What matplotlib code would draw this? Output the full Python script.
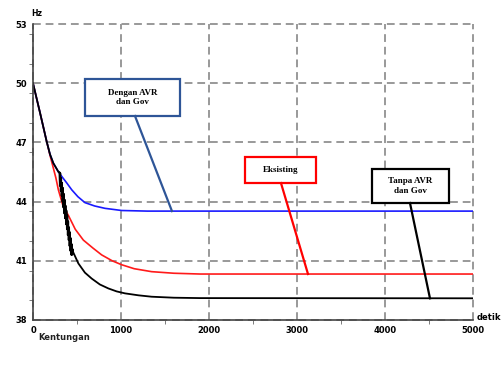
import matplotlib.pyplot as plt
from matplotlib.patches import Rectangle
from matplotlib.ticker import MultipleLocator

# Frekuensi sistem (Hz) terhadap waktu (detik)
blue_t = [0, 80, 155, 193, 231, 290, 340, 383, 440, 510, 590, 700, 818, 1008, 1300, 2000, 5000]
blue_v = [50.0, 48.5, 47.05, 46.4, 45.95, 45.5, 45.2, 44.95, 44.6, 44.25, 43.95, 43.78, 43.66, 43.55, 43.52, 43.52, 43.52]

red_t = [0, 80, 155, 193, 231, 260, 288, 340, 402, 480, 572, 680, 780, 900, 1008, 1150, 1348, 1600, 1900, 5000]
red_v = [50.0, 48.5, 47.05, 46.35, 45.7, 45.2, 44.6, 43.8, 43.3, 42.6, 42.05, 41.65, 41.3, 41.0, 40.8, 40.6, 40.45, 40.37, 40.33, 40.33]

black_t = [0, 80, 155, 193, 231, 290, 300, 305, 310, 315, 320, 325, 330, 335, 340, 345, 350, 355,
           360, 365, 370, 375, 380, 385, 390, 395, 400, 405, 410, 415, 420, 425, 430, 435, 440, 445,
           450, 455, 515, 590, 667, 760, 856, 950, 1045, 1200, 1348, 1600, 1900, 5000]
black_v = [50.0, 48.5, 47.05, 46.4, 45.95, 45.5, 45.5, 44.8, 45.45, 44.55, 45.2, 44.3, 44.95, 44.0, 44.7, 43.7, 44.4, 43.4,
           44.1, 43.15, 43.8, 42.85, 43.55, 42.6, 43.3, 42.3, 43.0, 42.05, 42.7, 41.75, 42.45, 41.5, 42.15, 41.3, 41.85, 41.3,
           41.6, 41.45, 40.87, 40.4, 40.1, 39.8, 39.6, 39.45, 39.35, 39.25, 39.18, 39.13, 39.11, 39.1]

x_ticks = [0, 1000, 2000, 3000, 4000, 5000]
y_ticks = [38, 41, 44, 47, 50, 53]

fig = plt.figure(figsize=(5.01, 3.65), dpi=100)
ax = fig.add_axes([0.0659, 0.1233, 0.8782, 0.8107])

ax.plot(red_t, red_v, color='#ff1a1a', lw=1.2, zorder=3)
ax.plot(blue_t, blue_v, color='#1a1aff', lw=1.2, zorder=3)
ax.plot(black_t, black_v, color='black', lw=1.3, zorder=4)

ax.set_xlim(0, 5000)
ax.set_ylim(38, 53)
ax.set_xticks(x_ticks)
ax.set_yticks(y_ticks)
ax.xaxis.set_minor_locator(MultipleLocator(500))
ax.yaxis.set_minor_locator(MultipleLocator(1.5))
ax.tick_params(axis='both', which='major', length=0, labelsize=6, pad=4)
ax.tick_params(axis='both', which='minor', length=3, color='#666666')
for lab in ax.get_xticklabels() + ax.get_yticklabels():
    lab.set_fontweight('bold')

ax.grid(True, which='major', color='#999999', linestyle=(0, (4, 2.5)), lw=1.4, zorder=1)
for gl in ax.get_xgridlines() + ax.get_ygridlines():
    gl.set_clip_on(False)
ax.spines['top'].set_visible(False)
ax.spines['right'].set_visible(False)
for s in ['left', 'bottom']:
    ax.spines[s].set_color('#444444')
    ax.spines[s].set_linewidth(1.2)
    ax.spines[s].set_zorder(5)

fig.text(37 / 501, 1 - 14 / 365, 'Hz', fontsize=5.5, fontweight='bold', ha='center', va='center')
fig.text(38 / 501, 1 - 337 / 365, 'Kentungan', fontsize=6, fontweight='bold', ha='left', va='center', color='#222222')
fig.text(477 / 501, 1 - 317 / 365, 'detik', fontsize=6, fontweight='bold', ha='left', va='center')

# kotak keterangan: (x0, y0, x1, y1), teks, warna, garis penunjuk
labels = [
    ((591, 48.34, 1670, 50.21), 'Dengan AVR\ndan Gov', '#2e5597', (1159, 48.34, 1579, 43.52)),
    ((2409, 44.94, 3215, 46.26), 'Eksisting', '#ff0000', (2818, 44.94, 3125, 40.33)),
    ((3852, 43.93, 4727, 45.65), 'Tanpa AVR\ndan Gov', '#000000', (4284, 43.93, 4511, 39.1)),
]
for (x0, y0, x1, y1), txt, col, (lx0, ly0, lx1, ly1) in labels:
    ax.add_patch(Rectangle((x0, y0), x1 - x0, y1 - y0, facecolor='white', edgecolor=col,
                           lw=1.6, zorder=6))
    ax.text((x0 + x1) / 2, (y0 + y1) / 2, txt, ha='center', va='center', fontsize=6.5,
            fontweight='bold', family='Liberation Serif', linespacing=1.3, zorder=7)
    ax.plot([lx0, lx1], [ly0, ly1], color=col, lw=1.6, zorder=6)

fig.savefig('out.png', dpi=100)
